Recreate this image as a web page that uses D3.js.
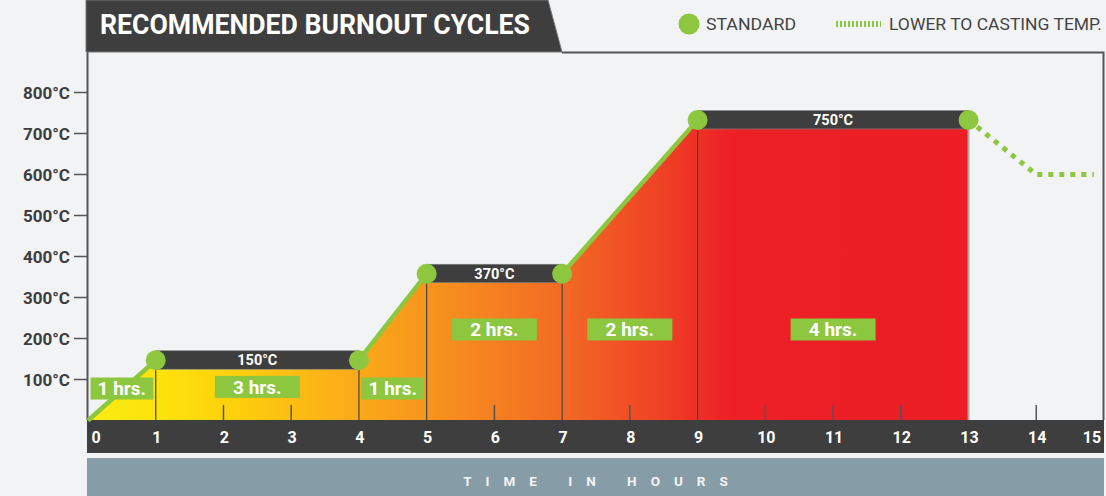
<!DOCTYPE html>
<html>
<head>
<meta charset="utf-8" />
<title>Recommended Burnout Cycles</title>
<script src="https://d3js.org/d3.v7.min.js"></script>
<style>
  body { margin: 0; background: #f2f3f5; }
  svg { display: block; font-family: Roboto, "Noto Sans", sans-serif; }
</style>
</head>
<body>
<div id="chart"></div>
<script>
// profile of the standard cycle (hours, deg C)
var stepHours = [0, 1, 4, 5, 7, 9, 13];
var stepTemps = [0, 147, 147, 358, 358, 733, 733];

// dotted "lower to casting temp" tail
var lowerHours = [13, 14, 14.85];
var lowerTemps = [733, 600, 600];

// holding plateaus
var holdFrom = [1, 5, 9];
var holdTo = [4, 7, 13];
var holdTemps = [147, 358, 733];
var holdLabels = ["150°C", "370°C", "750°C"];

// duration boxes
var segFrom = [0, 1, 4, 5, 7, 9];
var segTo = [1, 4, 5, 7, 9, 13];
var segLabels = ["1 hrs.", "3 hrs.", "1 hrs.", "2 hrs.", "2 hrs.", "4 hrs."];
var segLabelTemps = [78, 82, 78, 222, 222, 222];

var yTicks = [100, 200, 300, 400, 500, 600, 700, 800];
var xTicks = d3.range(0, 16);

var W = 1106, H = 496;
var green = "#8dc63f", dark = "#3e3e3e";

var x = d3.scaleLinear().domain([0, 15]).range([88, 1104]);
var y = d3.scaleLinear().domain([0, 800]).range([420.5, 92.5]);

var svg = d3.select("#chart").append("svg")
    .attr("width", W)
    .attr("height", H);

svg.append("rect").attr("width", W).attr("height", H).attr("fill", "#f2f3f5");

// gradient for the fill
var grad = svg.append("defs").append("linearGradient")
    .attr("id", "heat")
    .attr("gradientUnits", "userSpaceOnUse")
    .attr("x1", x(0)).attr("x2", x(13))
    .attr("y1", 0).attr("y2", 0);
var stops = [[0, "#f9ec14"], [1.2, "#fde10b"], [2.2, "#fdcf0c"], [3.6, "#fbb117"], [5, "#f7951d"],
             [7, "#f36a24"], [8.4, "#ef4325"], [9.5, "#ed2026"], [13, "#ec1d25"]];
grad.selectAll("stop").data(stops).enter().append("stop")
    .attr("offset", function(d) { return d[0] / 13; })
    .attr("stop-color", function(d) { return d[1]; });

var pts = stepHours.map(function(h, i) { return [h, stepTemps[i]]; });

// heated area
svg.append("path")
    .datum(pts)
    .attr("fill", "url(#heat)")
    .attr("d", d3.area()
        .x(function(d) { return x(d[0]); })
        .y0(y(0))
        .y1(function(d) { return y(d[1]); }));

// small hour ticks
var keyHours = stepHours.slice(1);
svg.selectAll(".htick")
    .data(xTicks.filter(function(d) { return d > 0 && d < 15 && keyHours.indexOf(d) < 0; }))
    .enter().append("line")
    .attr("x1", function(d) { return x(d); })
    .attr("x2", function(d) { return x(d); })
    .attr("y1", 405).attr("y2", y(0))
    .attr("stroke", "#555").attr("stroke-width", 1.5);

// vertical dividers under the plateaus
var dividers = [];
holdFrom.forEach(function(h, i) {
    dividers.push({ h: h, t: holdTemps[i] });
    dividers.push({ h: holdTo[i], t: holdTemps[i] });
});
svg.selectAll(".div")
    .data(dividers)
    .enter().append("line")
    .attr("x1", function(d) { return x(d.h); })
    .attr("x2", function(d) { return x(d.h); })
    .attr("y1", function(d) { return y(d.t) + 9; })
    .attr("y2", y(0))
    .attr("stroke", function(d) { return d.h == 13 ? "#aaa" : "#444"; })
    .attr("stroke-width", function(d) { return d.h == 13 ? 2 : 1.2; });

// frame
svg.append("path")
    .attr("d", "M562,52.5 H1103.5 V420 M87.5,52 V420")
    .attr("fill", "none")
    .attr("stroke", "#555")
    .attr("stroke-width", 2);

// title tab
svg.append("path")
    .attr("d", "M86,0 H548 L562,52 H86 Z")
    .attr("fill", dark)
    .attr("stroke", "#777")
    .attr("stroke-width", 1);
svg.append("text")
    .attr("x", 100).attr("y", 34)
    .attr("fill", "#fff")
    .attr("font-size", 28).attr("font-weight", 700)
    .attr("textLength", 430).attr("lengthAdjust", "spacingAndGlyphs")
    .text("RECOMMENDED BURNOUT CYCLES");

// legend
svg.append("circle").attr("cx", 689).attr("cy", 24).attr("r", 10.5).attr("fill", green);
svg.append("text").attr("x", 706).attr("y", 30)
    .attr("fill", "#444").attr("font-size", 16.5)
    .attr("textLength", 90).attr("lengthAdjust", "spacingAndGlyphs")
    .text("STANDARD");
svg.append("line").attr("x1", 836).attr("x2", 881).attr("y1", 24).attr("y2", 24)
    .attr("stroke", green).attr("stroke-width", 6).attr("stroke-dasharray", "2,2");
svg.append("text").attr("x", 889).attr("y", 30)
    .attr("fill", "#444").attr("font-size", 16.5)
    .attr("textLength", 213).attr("lengthAdjust", "spacingAndGlyphs")
    .text("LOWER TO CASTING TEMP.");

// y axis
svg.selectAll(".ytick").data(yTicks).enter().append("line")
    .attr("x1", 74).attr("x2", 88)
    .attr("y1", function(d) { return y(d); })
    .attr("y2", function(d) { return y(d); })
    .attr("stroke", "#555").attr("stroke-width", 1.5);
svg.selectAll(".ylab").data(yTicks).enter().append("text")
    .attr("x", 70)
    .attr("y", function(d) { return y(d); })
    .attr("dy", "0.36em")
    .attr("text-anchor", "end")
    .attr("fill", "#3d3d3d")
    .attr("font-size", 17).attr("font-weight", 700)
    .text(function(d) { return d + "°C"; });

// x axis band
svg.append("rect")
    .attr("x", 87).attr("y", y(0) - 0.5)
    .attr("width", 1104 - 87).attr("height", 453 - y(0) + 0.5)
    .attr("fill", dark);
svg.selectAll(".xlab").data(xTicks).enter().append("text")
    .attr("x", function(d) { return Math.min(Math.max(x(d) + 1, 96), 1092); })
    .attr("y", 437)
    .attr("dy", "0.36em")
    .attr("text-anchor", "middle")
    .attr("fill", "#fff")
    .attr("font-size", 16).attr("font-weight", 700)
    .text(function(d) { return d; });

// title band for the x axis
svg.append("rect")
    .attr("x", 87).attr("y", 458)
    .attr("width", 1104 - 87).attr("height", H - 458)
    .attr("fill", "#869ca7");
svg.append("text")
    .attr("x", (87 + 1104) / 2 + 7).attr("y", 481)
    .attr("dy", "0.36em")
    .attr("text-anchor", "middle")
    .attr("fill", "#f2f4f5")
    .attr("font-size", 13.5).attr("font-weight", 700)
    .attr("letter-spacing", 14)
    .text("TIME IN HOURS");

// dotted cooling tail
svg.append("path")
    .datum(lowerHours.map(function(h, i) { return [h, lowerTemps[i]]; }))
    .attr("fill", "none")
    .attr("stroke", green)
    .attr("stroke-width", 5)
    .attr("stroke-dasharray", "5,6")
    .attr("d", d3.line()
        .x(function(d) { return x(d[0]); })
        .y(function(d) { return y(d[1]); }));

// green profile line
svg.append("path")
    .datum(pts)
    .attr("fill", "none")
    .attr("stroke", green)
    .attr("stroke-width", 4.5)
    .attr("d", d3.line()
        .x(function(d) { return x(d[0]); })
        .y(function(d) { return y(d[1]); }));

// plateau bands
var bands = svg.selectAll(".band").data(holdFrom).enter().append("g");
bands.append("rect")
    .attr("x", function(d) { return x(d); })
    .attr("y", function(d, i) { return y(holdTemps[i]) - 9.5; })
    .attr("width", function(d, i) { return x(holdTo[i]) - x(d); })
    .attr("height", 18.5)
    .attr("fill", dark)
    .attr("stroke", "#888").attr("stroke-width", 0.6);
bands.append("text")
    .attr("x", function(d, i) { return (x(d) + x(holdTo[i])) / 2; })
    .attr("y", function(d, i) { return y(holdTemps[i]); })
    .attr("dy", "0.36em")
    .attr("text-anchor", "middle")
    .attr("fill", "#fff")
    .attr("font-size", 14.5).attr("font-weight", 700)
    .text(function(d, i) { return holdLabels[i]; });

// points
svg.selectAll(".pt").data(pts.slice(1)).enter().append("circle")
    .attr("cx", function(d) { return x(d[0]); })
    .attr("cy", function(d) { return y(d[1]); })
    .attr("r", 10)
    .attr("fill", green);

// duration labels
var segs = svg.selectAll(".seg").data(segFrom).enter().append("g");
segs.append("rect")
    .attr("x", function(d, i) {
        var w = Math.min(85, x(segTo[i]) - x(d) - 5);
        return (x(d) + x(segTo[i])) / 2 - w / 2;
    })
    .attr("y", function(d, i) { return y(segLabelTemps[i]) - 11; })
    .attr("width", function(d, i) { return Math.min(85, x(segTo[i]) - x(d) - 5); })
    .attr("height", 22)
    .attr("fill", green);
segs.append("text")
    .attr("x", function(d, i) { return (x(d) + x(segTo[i])) / 2; })
    .attr("y", function(d, i) { return y(segLabelTemps[i]); })
    .attr("dy", "0.36em")
    .attr("text-anchor", "middle")
    .attr("fill", "#fff")
    .attr("font-size", 19).attr("font-weight", 700)
    .text(function(d, i) { return segLabels[i]; });
</script>
</body>
</html>
